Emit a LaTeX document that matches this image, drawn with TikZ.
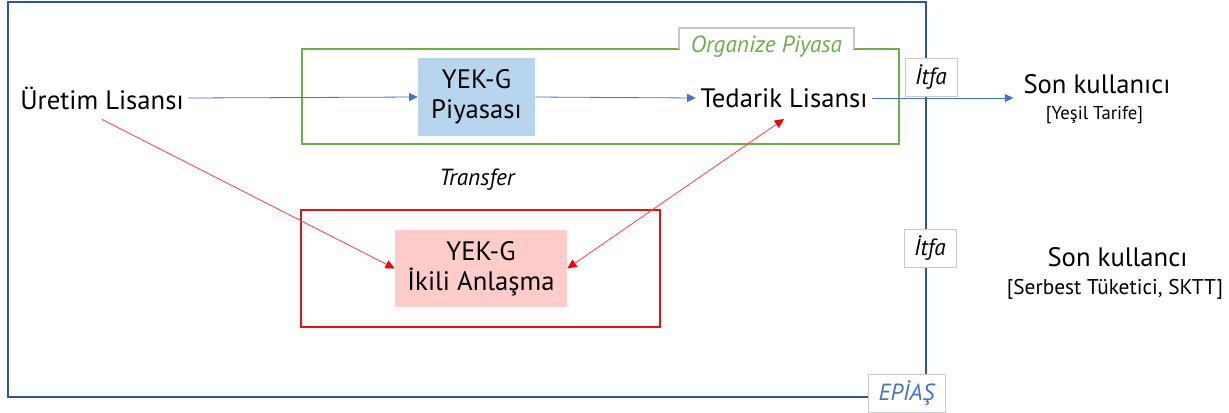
\documentclass[tikz,border=0pt]{standalone}
\usepackage{fontspec}
\setmainfont{PT Sans}
\usetikzlibrary{arrows.meta}
\definecolor{epiasblue}{RGB}{47,85,151}
\definecolor{orggreen}{RGB}{112,173,71}
\definecolor{ikilired}{RGB}{225,20,20}
\definecolor{piyasafill}{RGB}{183,214,238}
\definecolor{ikilifill}{RGB}{255,204,204}
\definecolor{arrowblue}{RGB}{68,114,196}
\definecolor{arrowred}{RGB}{255,60,60}
\definecolor{tagline}{RGB}{200,200,200}
\newcommand{\BigTxt}{\fontsize{20}{22.5}\selectfont}
\newcommand{\SubTxt}{\fontsize{14}{16}\selectfont}
\newcommand{\SubTxtB}{\fontsize{16}{19}\selectfont}
\newcommand{\TagTxt}{\fontsize{17.5}{19}\selectfont\itshape}

\begin{document}
\begin{tikzpicture}[x=0.75pt,y=-0.75pt,
  >={Triangle[length=6.5pt,width=6pt]},
  every node/.style={font=\BigTxt},
  tagbox/.style={draw=tagline, fill=white, font=\TagTxt, minimum width=39pt, minimum height=28.5pt, inner sep=0pt},
  bluearrow/.style={arrowblue, line width=0.6pt},
  redarrow/.style={arrowred, line width=0.6pt, >={Triangle[length=7pt,width=6.5pt,color=red,fill=red]}}]
\useasboundingbox (0,0) rectangle (1229,412);

\draw[epiasblue, line width=1.2pt] (8,2) rectangle (926,397);
\draw[orggreen, line width=1.1pt] (302,49) rectangle (899,144);
\draw[ikilired, line width=1.1pt] (301,210) rectangle (660,327);

\node (uretim) at (102,98) {Üretim Lisansı};
\node[fill=piyasafill, minimum width=87.75pt, minimum height=58.5pt, align=center] (piyasa) at (476.5,97) {YEK-G\\Piyasası};
\node (tedarik) at (784,98) {Tedarik Lisansı};
\node (son-1) at (1097,84) {Son kullanıcı};
\node[font=\SubTxt] (son-1-sub) at (1094.5,115) {[Yeşil Tarife]};
\node (son-2) at (1117.5,257) {Son kullancı};
\node[font=\SubTxtB] (son-2-sub) at (1115,289) {[Serbest Tüketici, SKTT]};
\node[font=\TagTxt] (transfer) at (477,180) {Transfer};
\node[fill=ikilifill, minimum width=129pt, minimum height=57.75pt, align=center] (ikili) at (481,268.5) {YEK-G\\İkili Anlaşma};

\node[fill=white, font=\TagTxt, text=orggreen, minimum width=130pt, minimum height=20pt] (org) at (766.5,47) {Organize Piyasa};
\draw[tagline, line width=0.8pt] (679,49) |- (854,28) -- (854,49);
\node[tagbox] (itfa-1) at (931,77) {İtfa};
\node[tagbox] (itfa-2) at (930,248) {İtfa};
\node[tagbox, text=arrowblue, minimum width=57.75pt] (epias) at (906.5,393) {EPİAŞ};

\path[->,bluearrow] (uretim.east) edge (piyasa.west);
\path[->,bluearrow] (piyasa.east) edge (tedarik.west);
\path[->,bluearrow] (tedarik.east) edge ([xshift=-4pt]tedarik.east -| son-1.west);
\path[->,redarrow] ([yshift=-4pt]uretim.south) edge (ikili.west);
\path[<->,redarrow] (ikili.east) edge ([yshift=-5pt]tedarik.south);
\end{tikzpicture}
\end{document}
